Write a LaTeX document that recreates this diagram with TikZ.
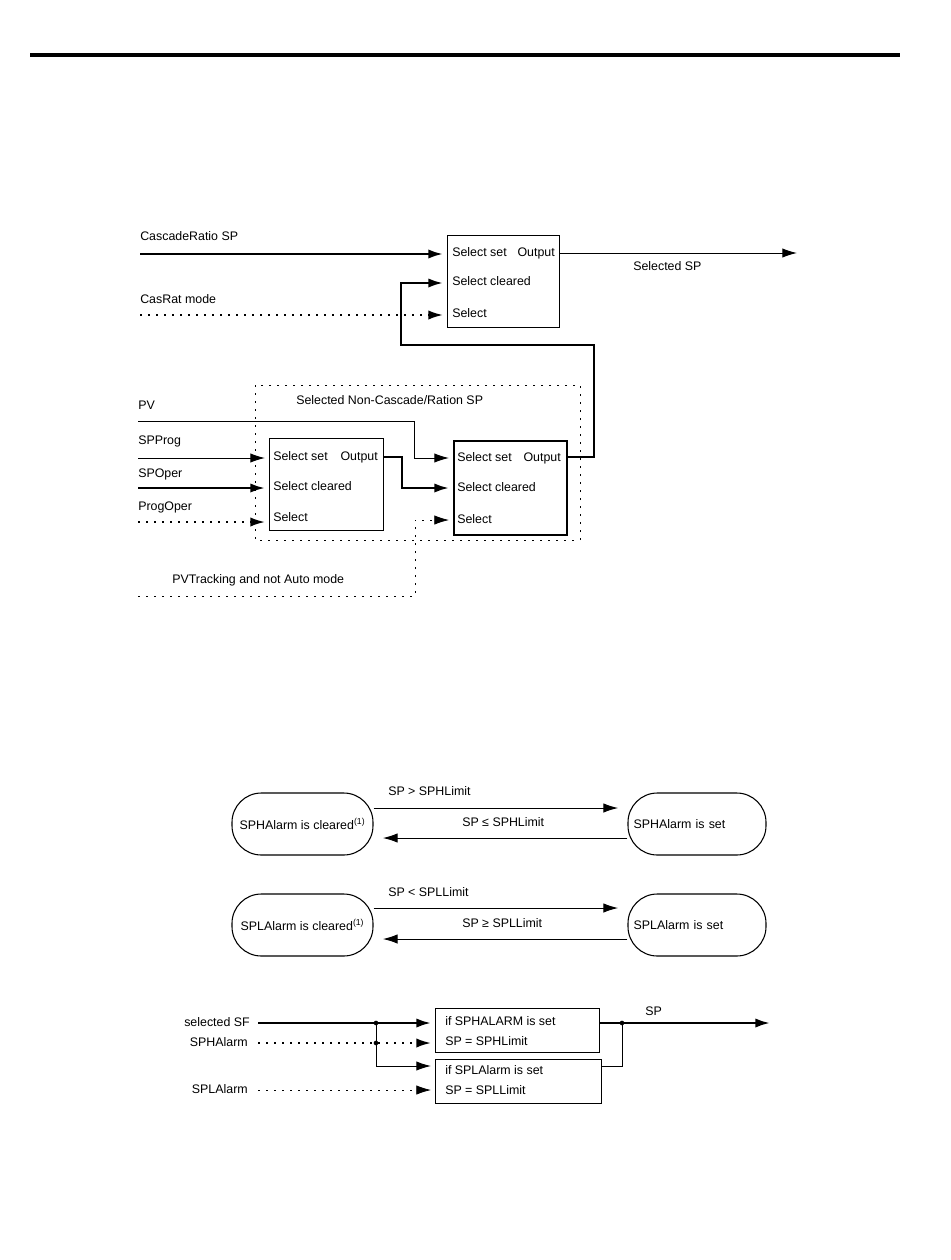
\documentclass[tikz,border=0pt]{standalone}
\usepackage{fontspec}
\setmainfont{Liberation Sans}
\usetikzlibrary{arrows.meta,calc}
\begin{document}
\begin{tikzpicture}[x=0.75pt,y=-0.75pt,
 font=\fontsize{9.3}{11}\selectfont,
 tip/.style={-{Latex[length=11pt,width=7pt]}, shorten >=3pt},
 thk/.style={line width=1.8pt},
 thn/.style={line width=0.75pt},
 dots/.style={line width=1.5pt, dash pattern=on 1.5pt off 4.5pt},
 fdots/.style={line width=0.6pt, dash pattern=on 1.5pt off 4.5pt},
 blk/.style={draw, line width=1.1pt, anchor=north west, inner sep=0pt},
 lbl/.style={anchor=west, inner sep=0pt, text height=7pt, text depth=2pt},
 rlbl/.style={anchor=east, inner sep=0pt, text height=7pt, text depth=2pt},
 state/.style={draw, line width=0.8pt, rounded corners=22pt, minimum height=46.5pt, inner sep=0pt},
 jdot/.style={circle, fill, inner sep=0pt, minimum size=3.5pt}
]
\useasboundingbox (0,0) rectangle (950,1260);
\draw[line width=3pt] (30,55) -- (900,55);

% ---------- top diagram ----------
\node[blk, minimum width=84pt, minimum height=69pt] (A) at (447,235) {};
\node[blk, minimum width=85.5pt, minimum height=69pt] (B) at (269,438) {};
\node[blk, line width=1.4pt, minimum width=84.75pt, minimum height=70.5pt] (C) at (453,440) {};

\node[lbl] (Aset) at (452,253) {Select set};
\node[rlbl] (Aout) at (555,253) {Output};
\node[lbl] (Acl) at (452,282) {Select cleared};
\node[lbl] (Asel) at (452,314) {Select};

\node[lbl] (Bset) at (273,457) {Select set};
\node[rlbl] (Bout) at (378,457) {Output};
\node[lbl] (Bcl) at (273,487) {Select cleared};
\node[lbl] (Bsel) at (273,518) {Select};

\node[lbl] (Cset) at (457,458) {Select set};
\node[rlbl] (Cout) at (561,458) {Output};
\node[lbl] (Ccl) at (457,488) {Select cleared};
\node[lbl] (Csel) at (457,520) {Select};

\node[lbl] (lcr) at (140,237) {CascadeRatio SP};
\coordinate (cr) at (140,254);
\draw[thk,tip] (cr) -- (A.west |- cr);

\node[lbl] (lcas) at (140,300) {CasRat mode};
\coordinate (cas) at (140,315);
\draw[dots,tip] (cas) -- (A.west |- cas);

\coordinate (selsp) at (797,253);
\draw[thn,-{Latex[length=11pt,width=7pt]}] (A.east |- selsp) -- (selsp);
\node[lbl] (lselsp) at (633,267) {Selected SP};

\coordinate (Ceo) at (C.east |- 0,457);
\draw[thk,tip] (Ceo) -| (594,345) -| (401,283) -- (A.west |- 0,283);

\draw[fdots] (255,385) rectangle (580,540);
\node[lbl] (lnc) at (296,401) {Selected Non-Cascade/Ration SP};

\node[lbl] (lpv) at (138,406) {PV};
\coordinate (pv) at (138,421);
\draw[thn,tip] (pv) -- (414,421) -- (414,458) -- (C.west |- 0,458);

\node[lbl] (lspp) at (138,441) {SPProg};
\coordinate (spp) at (138,458);
\draw[thn,tip] (spp) -- (B.west |- spp);

\node[lbl] (lspo) at (138,474) {SPOper};
\coordinate (spo) at (138,488);
\draw[thk,tip] (spo) -- (B.west |- spo);

\node[lbl] (lpo) at (138,507) {ProgOper};
\coordinate (po) at (138,522);
\draw[dots,tip] (po) -- (B.west |- po);

\coordinate (Beo) at (B.east |- 0,457);
\draw[thk,tip] (Beo) -| (402,488) -- (C.west |- 0,488);

\coordinate (pvt) at (138,596);
\draw[fdots,tip] (pvt) -| (415,520) -- (C.west |- 0,520);
\node[lbl] (lpvt) at (172,580) {PVTracking and not Auto mode};

% ---------- state diagram ----------
\node[state, minimum width=105.75pt] (SHc) at (302.5,824) {SPHAlarm is cleared\textsuperscript{(1)}};
\node[state, minimum width=103.5pt, text width=95pt, align=left] (SHs) at (697,824) {SPHAlarm is set};
\node[state, minimum width=105.75pt] (SLc) at (302.5,925) {SPLAlarm is cleared\textsuperscript{(1)}};
\node[state, minimum width=103.5pt, text width=95pt, align=left] (SLs) at (697,925) {SPLAlarm is set};

\draw[thn,tip,shorten >=7pt] (SHc.east |- 0,808) -- (SHs.west |- 0,808);
\draw[thn,tip,shorten >=7pt] (SHs.west |- 0,838) -- (SHc.east |- 0,838);
\draw[thn,tip,shorten >=7pt] (SLc.east |- 0,908) -- (SLs.west |- 0,908);
\draw[thn,tip,shorten >=7pt] (SLs.west |- 0,939) -- (SLc.east |- 0,939);
\node[lbl] (t1) at (388,792) {SP > SPHLimit};
\node[lbl] (t2) at (462,823) {SP ≤ SPHLimit};
\node[lbl] (t3) at (388,893) {SP < SPLLimit};
\node[lbl] (t4) at (462,924) {SP ≥ SPLLimit};

% ---------- limit block ----------
\node[blk, minimum width=123pt, minimum height=33pt] (P1) at (435,1008) {};
\node[blk, minimum width=124.5pt, minimum height=33pt] (P2) at (435,1059) {};
\node[lbl] (p1a) at (445,1022) {if SPHALARM is set};
\node[lbl] (p1b) at (445,1042) {SP = SPHLimit};
\node[lbl] (p2a) at (445,1071) {if SPLAlarm is set};
\node[lbl] (p2b) at (445,1091) {SP = SPLLimit};

\node[rlbl] (lsf) at (250,1023) {selected SF};
\coordinate (sf) at (258,1023);
\coordinate (j1) at (376,1023);
\draw[thk,tip] (sf) -- (P1.west |- sf);
\draw[thn,tip] (j1) -- (376,1066) -- (P2.west |- 0,1066);

\node[rlbl] (lsh) at (248,1043) {SPHAlarm};
\coordinate (sh) at (258,1043);
\draw[dots,tip] (sh) -- (P1.west |- sh);

\node[rlbl] (lsl) at (248,1090) {SPLAlarm};
\coordinate (sl) at (258,1090);
\draw[fdots,tip] (sl) -- (P2.west |- sl);

\node[jdot] (d1) at (376,1023) {};
\node[jdot] (d2) at (376,1043) {};

\coordinate (spo2) at (770,1023);
\coordinate (j2) at (622,1023);
\draw[thk,-{Latex[length=11pt,width=7pt]}] (P1.east |- spo2) -- (spo2);
\draw[thn] (P2.east |- 0,1066) -| (j2);
\node[jdot] (d3) at (j2) {};
\node[lbl] (lsp) at (645,1012) {SP};
\end{tikzpicture}
\end{document}
